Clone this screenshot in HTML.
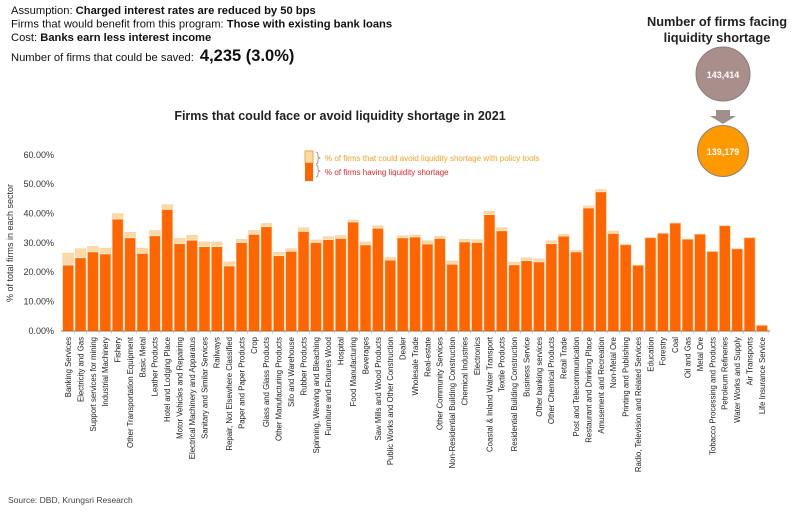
<!DOCTYPE html>
<html><head><meta charset="utf-8"><style>
body{margin:0;background:#fff;width:800px;height:513px;overflow:hidden;font-family:"Liberation Sans",sans-serif}
</style></head><body>
<svg width="800" height="513" xmlns="http://www.w3.org/2000/svg" font-family="Liberation Sans, sans-serif">
<g font-size="11.2" fill="#111">
<text x="11" y="14">Assumption: <tspan font-weight="bold">Charged interest rates are reduced by 50 bps</tspan></text>
<text x="11" y="27.5">Firms that would benefit from this program: <tspan font-weight="bold">Those with existing bank loans</tspan></text>
<text x="11" y="41">Cost: <tspan font-weight="bold">Banks earn less interest income</tspan></text>
<text x="11" y="61">Number of firms that could be saved: <tspan font-weight="bold" font-size="16.5" dx="3">4,235 (3.0%)</tspan></text>
</g>
<g font-size="12.8" font-weight="bold" fill="#222" text-anchor="middle">
<text x="717" y="26">Number of firms facing</text>
<text x="717" y="42">liquidity shortage</text>
</g>
<circle cx="723" cy="74" r="27" fill="#a88f8b" stroke="#8f7d7a" stroke-width="1"/>
<text x="723" y="78" font-size="9" font-weight="bold" fill="#fff" text-anchor="middle">143,414</text>
<polygon points="716,110 730,110 730,116 736,116 723,124 710,116 716,116" fill="#a08f8c"/>
<circle cx="723" cy="151" r="25.5" fill="#ff9900" stroke="#8f7d7a" stroke-width="1"/>
<text x="723" y="155" font-size="9" font-weight="bold" fill="#fff" text-anchor="middle">139,179</text>
<text x="340" y="120" font-size="12.5" font-weight="bold" fill="#222" text-anchor="middle">Firms that could face or avoid liquidity shortage in 2021</text>
<g font-size="9" fill="#333" text-anchor="end">
<text x="54" y="158">60.00%</text><text x="54" y="187">50.00%</text><text x="54" y="216.5">40.00%</text>
<text x="54" y="246">30.00%</text><text x="54" y="275">20.00%</text><text x="54" y="304.5">10.00%</text><text x="54" y="334">0.00%</text>
</g>
<text transform="translate(13,243) rotate(-90)" font-size="9" fill="#333" text-anchor="middle">% of total firms in each sector</text>
<rect x="305" y="151" width="8" height="12" fill="#fdd9a6" stroke="#f9a23f" stroke-width="1"/>
<rect x="305" y="163" width="8" height="18" fill="#ff6600"/>
<path d="M316 152 q2 0 2 3 v2 l2 1 -2 1 v2 q0 3 -2 3 M316 165 q2 0 2 3 v2 l2 1 -2 1 v2 q0 3 -2 3" fill="none" stroke="#888" stroke-width="0.8"/>
<text x="325" y="161" font-size="8" fill="#f7a226">% of firms that could avoid liquidity shortage with policy tools</text>
<text x="325" y="175" font-size="8" fill="#e8252a">% of firms having liquidity shortage</text>
<g id="bars"></g>
<line x1="61" y1="331" x2="770" y2="331" stroke="#b0643a" stroke-width="1"/>
<g font-size="7.8" fill="#222" text-anchor="end">
<text transform="translate(71,337) rotate(-90)">Banking Services</text>
<text transform="translate(83.4,337) rotate(-90)">Electricity and Gas</text>
<text transform="translate(95.8,337) rotate(-90)">Support services for mining</text>
<text transform="translate(108.2,337) rotate(-90)">Industrial Machinery</text>
<text transform="translate(120.6,337) rotate(-90)">Fishery</text>
<text transform="translate(133,337) rotate(-90)">Other Transportation Equipment</text>
<text transform="translate(145.3,337) rotate(-90)">Basic Metal</text>
<text transform="translate(157.7,337) rotate(-90)">Leather Products</text>
<text transform="translate(170.1,337) rotate(-90)">Hotel and Lodging Place</text>
<text transform="translate(182.5,337) rotate(-90)">Motor Vehicles and Repairing</text>
<text transform="translate(194.9,337) rotate(-90)">Electrical Machinery and Apparatus</text>
<text transform="translate(207.3,337) rotate(-90)">Sanitary and Similar Services</text>
<text transform="translate(219.7,337) rotate(-90)">Railways</text>
<text transform="translate(232.1,337) rotate(-90)">Repair, Not Elsewhere Classified</text>
<text transform="translate(244.5,337) rotate(-90)">Paper and Paper Products</text>
<text transform="translate(256.9,337) rotate(-90)">Crop</text>
<text transform="translate(269.2,337) rotate(-90)">Glass and Glass Products</text>
<text transform="translate(281.6,337) rotate(-90)">Other Manufacturing Products</text>
<text transform="translate(294,337) rotate(-90)">Silo and Warehouse</text>
<text transform="translate(306.4,337) rotate(-90)">Rubber Products</text>
<text transform="translate(318.8,337) rotate(-90)">Spinning, Weaving and Bleaching</text>
<text transform="translate(331.2,337) rotate(-90)">Furniture and Fixtures Wood</text>
<text transform="translate(343.6,337) rotate(-90)">Hospital</text>
<text transform="translate(356,337) rotate(-90)">Food Manufacturing</text>
<text transform="translate(368.4,337) rotate(-90)">Beverages</text>
<text transform="translate(380.8,337) rotate(-90)">Saw Mills and Wood Products</text>
<text transform="translate(393.1,337) rotate(-90)">Public Works and Other Construction</text>
<text transform="translate(405.5,337) rotate(-90)">Dealer</text>
<text transform="translate(417.9,337) rotate(-90)">Wholesale Trade</text>
<text transform="translate(430.3,337) rotate(-90)">Real-estate</text>
<text transform="translate(442.7,337) rotate(-90)">Other Community Services</text>
<text transform="translate(455.1,337) rotate(-90)">Non-Residential Building Construction</text>
<text transform="translate(467.5,337) rotate(-90)">Chemical Industries</text>
<text transform="translate(479.9,337) rotate(-90)">Electronics</text>
<text transform="translate(492.3,337) rotate(-90)">Coastal &amp; Inland Water Transport</text>
<text transform="translate(504.7,337) rotate(-90)">Textile Products</text>
<text transform="translate(517,337) rotate(-90)">Residential Building Construction</text>
<text transform="translate(529.4,337) rotate(-90)">Business Service</text>
<text transform="translate(541.8,337) rotate(-90)">Other banking services</text>
<text transform="translate(554.2,337) rotate(-90)">Other Chemical Products</text>
<text transform="translate(566.6,337) rotate(-90)">Retail Trade</text>
<text transform="translate(579,337) rotate(-90)">Post and Telecommunication</text>
<text transform="translate(591.4,337) rotate(-90)">Restaurant and Drinking Place</text>
<text transform="translate(603.8,337) rotate(-90)">Amusement and Recreation</text>
<text transform="translate(616.2,337) rotate(-90)">Non-Metal Ore</text>
<text transform="translate(628.6,337) rotate(-90)">Printing and Publishing</text>
<text transform="translate(640.9,337) rotate(-90)">Radio, Television and Related Services</text>
<text transform="translate(653.3,337) rotate(-90)">Education</text>
<text transform="translate(665.7,337) rotate(-90)">Forestry</text>
<text transform="translate(678.1,337) rotate(-90)">Coal</text>
<text transform="translate(690.5,337) rotate(-90)">Oil and Gas</text>
<text transform="translate(702.9,337) rotate(-90)">Metal Ore</text>
<text transform="translate(715.3,337) rotate(-90)">Tobacco Processing and Products</text>
<text transform="translate(727.7,337) rotate(-90)">Petroleum Refineries</text>
<text transform="translate(740.1,337) rotate(-90)">Water Works and Supply</text>
<text transform="translate(752.5,337) rotate(-90)">Air Transports</text>
<text transform="translate(764.8,337) rotate(-90)">Life Insurance Service</text>
</g>
<text x="8" y="503" font-size="8.5" fill="#444">Source: DBD, Krungsri Research</text>
</svg>
<script>
var d=[[26.5,22.5],[28,25],[28.8,27],[28.2,26.3],[40,38.2],[33.6,31.8],[28.2,26.5],[34.2,32.5],[43,41.5],[31.5,29.8],[32.6,31],[30.3,28.8],[30.3,28.8],[23.5,22.2],[31.2,30.2],[34.2,33],[36.6,35.6],[26.8,25.7],[28,27.2],[35.2,34],[31,30.2],[32.1,31.2],[32.5,31.6],[37.8,37.2],[30.3,29.4],[35.8,35.1],[25,24.2],[32.4,31.8],[32.7,32.1],[30.7,29.7],[32.2,31.6],[23.8,22.8],[31.2,30.4],[31.1,30.2],[40.8,39.7],[35.2,34.2],[23.4,22.6],[24.9,24],[24.5,23.6],[30.7,29.8],[32.9,32.4],[27.4,27],[42.6,42],[48.2,47.5],[34,33.3],[29.5,29.3],[22.4,22.3],[31.8,31.7],[33.3,33.2],[36.8,36.7],[31.3,31.2],[33,32.9],[27.1,27],[35.9,35.8],[28,27.9],[31.8,31.7],[1.9,1.8]];
var s='',k=2.93;
d.forEach(function(v,i){var x=63+i*12.39,w=10.3,yt=331-v[0]*k,yd=331-v[1]*k;
s+='<rect x="'+(x-0.5)+'" y="'+(yt-0.5)+'" width="'+(w+1)+'" height="'+(331-yt+0.5)+'" fill="#fcc99a"/>';
s+='<rect x="'+x+'" y="'+yt+'" width="'+w+'" height="'+(yd-yt)+'" fill="#fdd9a6"/>';
s+='<rect x="'+x+'" y="'+yd+'" width="'+w+'" height="'+(331-yd)+'" fill="#ff6600"/>';
if(v[0]-v[1]>0.3)s+='<line x1="'+x+'" y1="'+yd+'" x2="'+(x+w)+'" y2="'+yd+'" stroke="#fff3e0" stroke-width="0.7"/>';
s+='<line x1="'+(x+w+1)+'" y1="331" x2="'+(x+w+1)+'" y2="334" stroke="#bbb" stroke-width="0.6"/>';});
document.getElementById('bars').innerHTML=s;
</script>
</body></html>
